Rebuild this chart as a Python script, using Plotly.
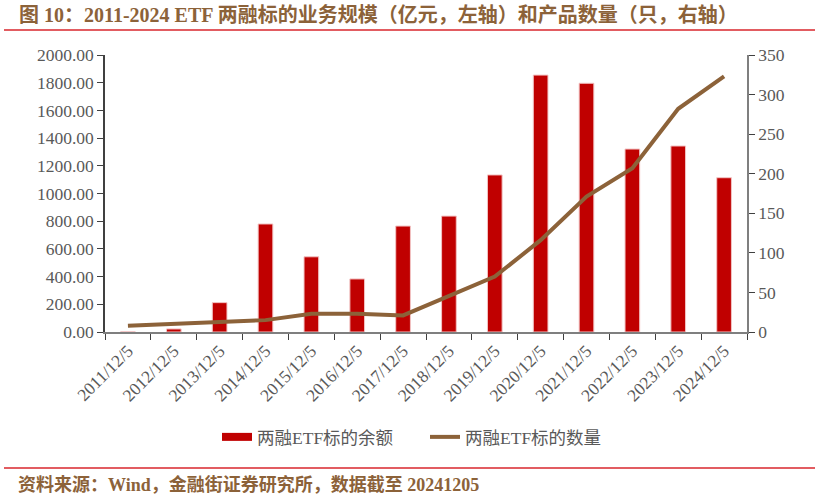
import plotly.graph_objects as go

# 数据
dates = ["2011/12/5", "2012/12/5", "2013/12/5", "2014/12/5", "2015/12/5", "2016/12/5", "2017/12/5",
         "2018/12/5", "2019/12/5", "2020/12/5", "2021/12/5", "2022/12/5", "2023/12/5", "2024/12/5"]
balance = [1, 22, 212, 780, 543, 383, 765, 837, 1134, 1855, 1796, 1321, 1343, 1114]
count = [8, 10.5, 13, 15, 23, 23, 21, 45, 70, 116, 171, 207, 282, 323]

left_ticks = [0, 200, 400, 600, 800, 1000, 1200, 1400, 1600, 1800, 2000]
right_ticks = [0, 50, 100, 150, 200, 250, 300, 350]

W, H = 820, 499
L, R, T, B = 105, 73, 55, 167
PW, PH = W - L - R, H - T - B


def px(x):
    return (x - L) / PW


def py(y):
    return (H - B - y) / PH


SERIF = "Liberation Serif, Times New Roman, Noto Sans CJK SC, serif"
BROWN = "#8c6239"
GREY = "#595959"
RED = "#c00000"

fig = go.Figure()
fig.add_trace(go.Bar(
    x=dates, y=balance, name="两融ETF标的余额", showlegend=False,
    marker=dict(color=RED, line=dict(color="#f2c4c4", width=1)),
))
# 图例用的色块（柱子本身不进图例）
fig.add_trace(go.Scatter(
    x=[None], y=[None], name="两融ETF标的余额", mode="lines",
    line=dict(color=RED, width=8),
))
fig.add_trace(go.Scatter(
    x=dates, y=count, name="两融ETF标的数量", yaxis="y2", mode="lines",
    line=dict(color=BROWN, width=4),
))

fig.update_layout(
    width=W, height=H,
    margin=dict(l=L, r=R, t=T, b=B),
    paper_bgcolor="white", plot_bgcolor="white",
    font=dict(family=SERIF, size=15, color=GREY),
    bargap=0.68,
    showlegend=True,
    legend=dict(orientation="h", x=px(217), xanchor="left", y=py(437), yanchor="middle",
                font=dict(size=17.5, color=GREY), itemwidth=30,
                entrywidthmode="pixels", entrywidth=163),
    xaxis=dict(
        showline=True, linecolor="#7f7f7f", linewidth=1.5,
        ticks="outside", tickson="boundaries", ticklen=6, tickcolor="#404040",
        tickangle=-45, tickfont=dict(size=17.5, color=GREY), showgrid=False,
    ),
    yaxis=dict(
        range=[0, 2000], tickvals=left_ticks, tickformat=".2f",
        showline=True, linecolor="#404040", linewidth=1.5,
        ticks="outside", ticklen=6, tickcolor="#404040",
        tickfont=dict(size=17.5, color=GREY), showgrid=False, zeroline=False,
    ),
    yaxis2=dict(
        range=[0, 350], tickvals=right_ticks, overlaying="y", side="right",
        showline=True, linecolor="#7f7f7f", linewidth=1.5,
        ticks="outside", ticklen=6, tickcolor="#404040",
        tickfont=dict(size=17.5, color=GREY), showgrid=False, zeroline=False,
    ),
    shapes=[
        dict(type="line", xref="paper", yref="paper", x0=px(4), x1=px(815), y0=py(30), y1=py(30),
             line=dict(color="#d9262c", width=1.5)),
        dict(type="line", xref="paper", yref="paper", x0=px(4), x1=px(815), y0=py(468), y1=py(468),
             line=dict(color="#d9262c", width=1.5)),
    ],
    annotations=[
        dict(text="<b>图 10：2011-2024 ETF 两融标的业务规模（亿元，左轴）和产品数量（只，右轴）</b>",
             xref="paper", yref="paper", x=px(17), y=py(15), xanchor="left", yanchor="middle",
             showarrow=False, font=dict(family=SERIF, size=20, color=BROWN)),
        dict(text="<b>资料来源：Wind，金融街证券研究所，数据截至 20241205</b>",
             xref="paper", yref="paper", x=px(16), y=py(485), xanchor="left", yanchor="middle",
             showarrow=False, font=dict(family=SERIF, size=18, color=BROWN)),
    ],
)

fig.write_html("out.html", config={"displayModeBar": False},
               post_script="document.body.style.margin='0';")
